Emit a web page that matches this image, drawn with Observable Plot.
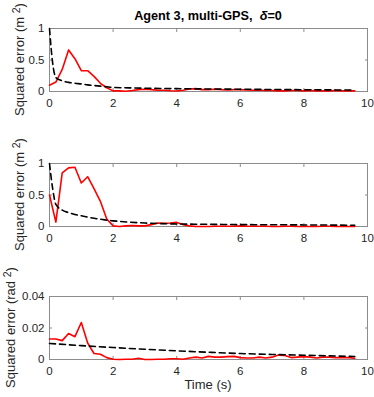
<!DOCTYPE html>
<html><head><meta charset="utf-8">
<script src="https://cdn.jsdelivr.net/npm/d3@7"></script>
<script src="https://cdn.jsdelivr.net/npm/@observablehq/plot@0.6"></script>
<style>
body{margin:0;background:#fff;}
#wrap{position:relative;width:374px;height:397px;font-family:"Liberation Sans",Arial,sans-serif;}
#wrap svg{position:absolute;left:0;overflow:visible;}
#title{position:absolute;left:0;width:416px;text-align:center;top:9px;font:bold 12.7px "Liberation Sans",Arial,sans-serif;color:#000;}
</style>
</head><body>
<div id="wrap"><div id="title">Agent 3, multi-GPS,&nbsp; <i>δ</i>=0</div></div>
<script>
const timeRed = [0,0.2,0.4,0.6,0.8,1.0,1.2,1.4,1.6,1.8,2.0,2.2,2.4,2.6,2.8,3.0,3.2,3.4,3.6,3.8,4.0,4.2,4.4,4.6,4.8,5.0,5.2,5.4,5.6,5.8,6.0,6.2,6.4,6.6,6.8,7.0,7.2,7.4,7.6,7.8,8.0,8.2,8.4,8.6,8.8,9.0,9.2,9.4,9.6];
const redPos1 = [0.1,0.15,0.35,0.66,0.52,0.33,0.33,0.24,0.13,0.06,0.01,0.01,0.005,0.015,0.03,0.035,0.03,0.02,0.02,0.012,0.008,0.02,0.04,0.045,0.03,0.03,0.035,0.03,0.025,0.03,0.03,0.025,0.02,0.02,0.015,0.015,0.01,0.01,0.015,0.015,0.01,0.015,0.01,0.01,0.01,0.015,0.01,0.01,0.01];
const redPos2 = [0.5,0.07,0.85,0.93,0.94,0.69,0.79,0.6,0.4,0.12,0.01,0.0,0.01,0.015,0.01,0.01,0.03,0.055,0.05,0.055,0.065,0.03,0.01,0,0,0,0.005,0.005,0.005,0.005,0.01,0.005,0.005,0.005,0.005,0,0,0.005,0.005,0,0,0,0,0.005,0.005,0,0,0,0];
const redAng = [0.013,0.013,0.012,0.0165,0.0145,0.0235,0.0105,0.0038,0.0033,0.0012,0.0002,0,0.0002,0.0002,0.0008,0,0,0.0002,0.0002,0.0005,0.0005,0.0002,0.001,0.0015,0.001,0.002,0.0015,0.0015,0.0018,0.002,0.0012,0.001,0.001,0.0015,0.001,0.0015,0.0028,0.0025,0.0012,0.0015,0.0018,0.0015,0.001,0.0015,0.0015,0.0012,0.0012,0.0012,0.0008];
const timeBound = [0,0.1,0.2,0.4,0.6,0.8,1,1.2,1.4,1.6,1.8,2,2.5,3,3.5,4,5,6,7,8,9,9.6];
const boundPos1 = [1,0.45,0.22,0.17,0.145,0.13,0.12,0.105,0.095,0.085,0.075,0.065,0.058,0.052,0.048,0.045,0.04,0.036,0.032,0.028,0.025,0.023];
const boundPos2 = [1,0.6,0.35,0.26,0.22,0.19,0.17,0.15,0.13,0.115,0.1,0.09,0.07,0.055,0.045,0.04,0.035,0.03,0.028,0.025,0.022,0.02];
const timeBoundAng = [0,1,2,3,4,5,6,7,8,9,9.6];
const boundAng = [0.0102,0.0088,0.0076,0.0065,0.0055,0.0046,0.0038,0.0032,0.0027,0.0022,0.0019];
const xTicks = [0,2,4,6,8,10];
const yTicks1 = [0,0.5,1];
const yTicks3 = [0,0.02,0.04];

const panels = [
  {top:0, h:130, mt:28, mb:39, red:redPos1, bt:timeBound, bound:boundPos1, dom:[0,1], ticks:yTicks1, unit:"m", lx:24, xlabel:false},
  {top:130, h:130, mt:33, mb:34, red:redPos2, bt:timeBound, bound:boundPos2, dom:[0,1], ticks:yTicks1, unit:"m", lx:24, xlabel:false},
  {top:260, h:137, mt:36, mb:38, red:redAng, bt:timeBoundAng, bound:boundAng, dom:[0,0.04], ticks:yTicks3, unit:"rad", lx:15, xlabel:true}
];
const wrap = document.getElementById("wrap");
for (const p of panels) {
  const redData = timeRed.map((t,i)=>({t, v:p.red[i]}));
  const bData = p.bt.map((t,i)=>({t, v:p.bound[i]}));
  const svg = Plot.plot({
    width:374, height:p.h, marginTop:p.mt, marginBottom:p.mb, marginLeft:49, marginRight:7,
    style:{fontFamily:'"Liberation Sans",Arial,sans-serif', fontSize:"11.5px", color:"#262626", background:"transparent"},
    x:{domain:[0,10], ticks:xTicks, label:null},
    y:{domain:p.dom, ticks:p.ticks, label:null},
    marks:[
      Plot.frame({stroke:"#8c8c8c", strokeWidth:1}),
      Plot.axisX({anchor:"bottom", ticks:xTicks, tickSize:-3, tickPadding:10, stroke:"#8c8c8c", fill:"#262626", label:null}),
      Plot.axisX({anchor:"top", ticks:xTicks, tickSize:-3, tickFormat:()=>"", stroke:"#8c8c8c", label:null}),
      Plot.axisY({anchor:"left", ticks:p.ticks, tickSize:-3, tickPadding:8, tickFormat:d=>String(d), stroke:"#8c8c8c", fill:"#262626", label:null}),
      Plot.axisY({anchor:"right", ticks:p.ticks, tickSize:-3, tickFormat:()=>"", stroke:"#8c8c8c", label:null}),
      Plot.line(redData, {x:"t", y:"v", stroke:"#ff0000", strokeWidth:1.6}),
      Plot.line(bData, {x:"t", y:"v", stroke:"#000", strokeWidth:1.6, strokeDasharray:"6,4", curve:"monotone-x"})
    ]
  });
  svg.style.top = p.top + "px";
  const s = d3.select(svg);
  const cy = (p.mt + (p.h - p.mb)) / 2;
  const lab = s.append("text")
    .attr("transform", `translate(${p.lx},${cy}) rotate(-90)`)
    .attr("text-anchor","middle")
    .attr("fill","#262626")
    .style("font-size","13px")
    .text(`Squared error (${p.unit} `);
  lab.append("tspan").attr("dy","-4").style("font-size","10.5px").text("2");
  lab.append("tspan").attr("dy","4").text(")");
  if (p.xlabel) {
    s.append("text").attr("x", 49 + 318/2).attr("y", p.h - 8)
      .attr("text-anchor","middle").attr("fill","#262626").style("font-size","13px").text("Time (s)");
  }
  wrap.appendChild(svg);
}
</script>
</body></html>
